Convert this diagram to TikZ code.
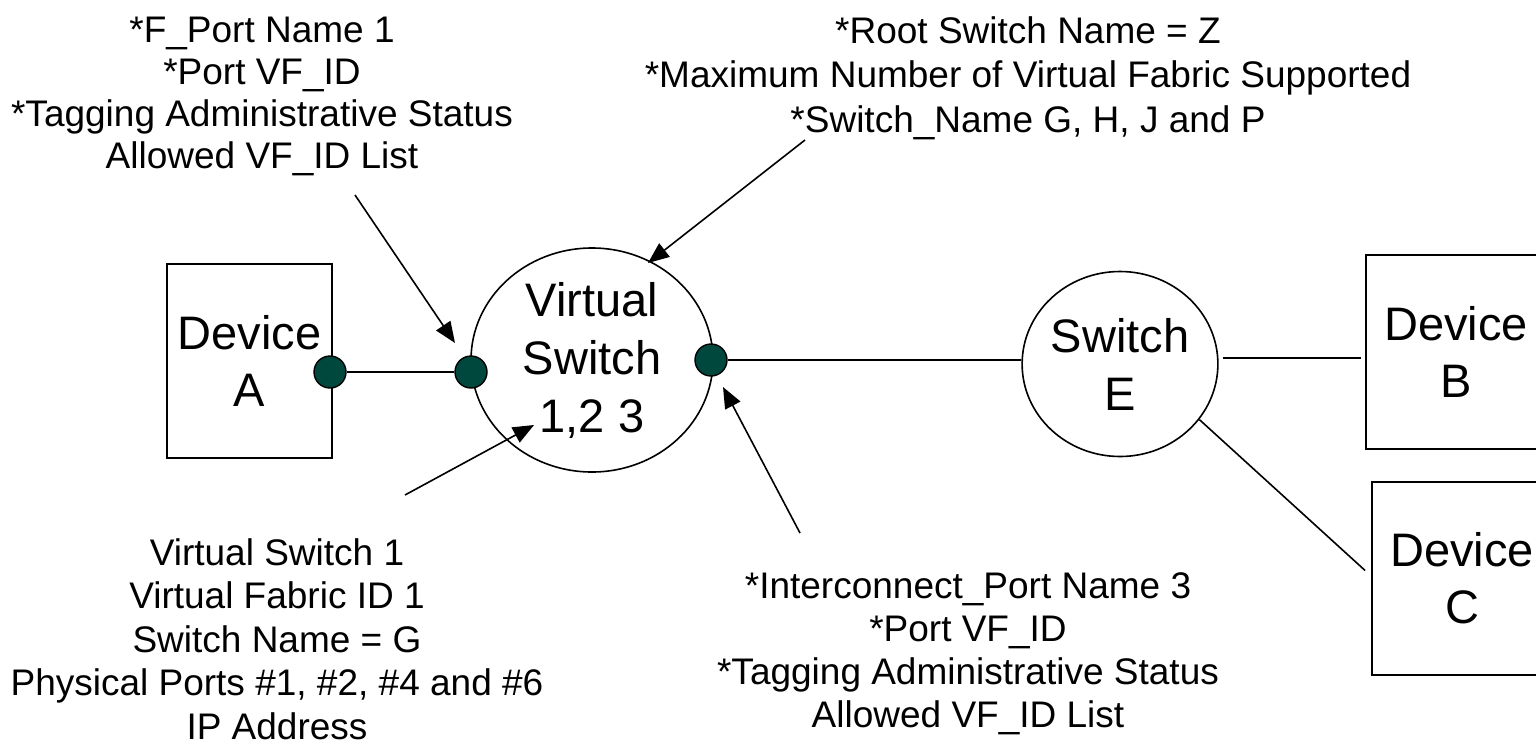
\documentclass[tikz,border=0pt]{standalone}
\usepackage{fontspec}
\setmainfont{Liberation Sans}
\usetikzlibrary{shapes.geometric,arrows.meta,calc}
\definecolor{portfill}{RGB}{0,72,62}
\tikzset{
  conn/.style={line width=1.6pt, black},
  pointer/.style={line width=1.6pt, black, -{Triangle[length=21pt,width=17pt]}},
  devbox/.style={draw, line width=1.8pt, rectangle, minimum width=165pt, minimum height=194pt, align=center, inner sep=0pt, font=\fontsize{47pt}{57pt}\selectfont},
  swnode/.style={draw, line width=1.6pt, ellipse, align=center, inner sep=0pt, font=\fontsize{47pt}{58pt}\selectfont},
  port/.style={circle, draw, line width=1.4pt, fill=portfill, minimum size=32pt, inner sep=0pt},
  info/.style={align=center, anchor=base, inner sep=0pt, font=\fontsize{37pt}{43pt}\selectfont},
}
\begin{document}
\begin{tikzpicture}[x=1pt,y=-1pt]
\fill[white] (0,0) rectangle (1536,745);
\useasboundingbox (0,0) rectangle (1536,745);

% devices
\node[devbox] (A) at (249.5,361) {Device\\A};
\node[devbox, minimum width=180pt] (B) at (1456,352) {Device\\B};
\node[devbox, minimum width=180pt, minimum height=193pt] (C) at (1462,578.5) {Device\\C};

% switches
\node[swnode, minimum width=242pt, minimum height=224pt] (VS) at (592,360) {Virtual\\Switch\\1,2 3};
\node[swnode, minimum width=195pt, minimum height=185pt] (E) at (1120,364) {Switch\\E};

% ports
\node[port] (p1) at (330,372) {};
\node[port] (p2) at (471,372) {};
\node[port] (p3) at (711,360) {};

% links
\draw[conn] (p1) -- (p2);
\draw[conn] (p3.east) -- (p3.east -| E.west);
\draw[conn] ([yshift=6pt]E.east) ++(4,0) -- ([xshift=-4pt,yshift=-6pt]B.west);
\draw[conn] (E.-35) -- ([yshift=8pt,xshift=-6pt]C.west);

% info texts (anchor = baseline of last line)
\node[info] (tl) at (262,168) {*F\_Port Name 1\\[-1pt]*Port VF\_ID\\[-1pt]*Tagging Administrative Status\\[-1pt]Allowed VF\_ID List};
\node[info] (tr) at (1028,132) {*Root Switch Name = Z\\[1.5pt]*Maximum Number of Virtual Fabric Supported\\[1.5pt]*Switch\_Name G, H, J and P};
\node[info] (bl) at (277,739) {Virtual Switch 1\\[0.5pt]Virtual Fabric ID 1\\[0.5pt]Switch Name = G\\[0.5pt]Physical Ports \#1, \#2, \#4 and \#6\\[0.5pt]IP Address};
\node[info] (bm) at (968,727) {*Interconnect\_Port Name 3\\*Port VF\_ID\\*Tagging Administrative Status\\Allowed VF\_ID List};

% pointer arrows
\coordinate (t1) at (355,195);
\coordinate (h1) at (455,343);
\coordinate (t2) at (805,140);
\coordinate (h2) at (648,263);
\coordinate (t3) at (405,495);
\coordinate (h3) at (534,425);
\coordinate (t4) at (800,533);
\coordinate (h4) at (723,387);
\draw[pointer] (t1) -- (h1);
\draw[pointer] (t2) -- (h2);
\draw[pointer] (t3) -- (h3);
\draw[pointer] (t4) -- (h4);
\end{tikzpicture}
\end{document}
